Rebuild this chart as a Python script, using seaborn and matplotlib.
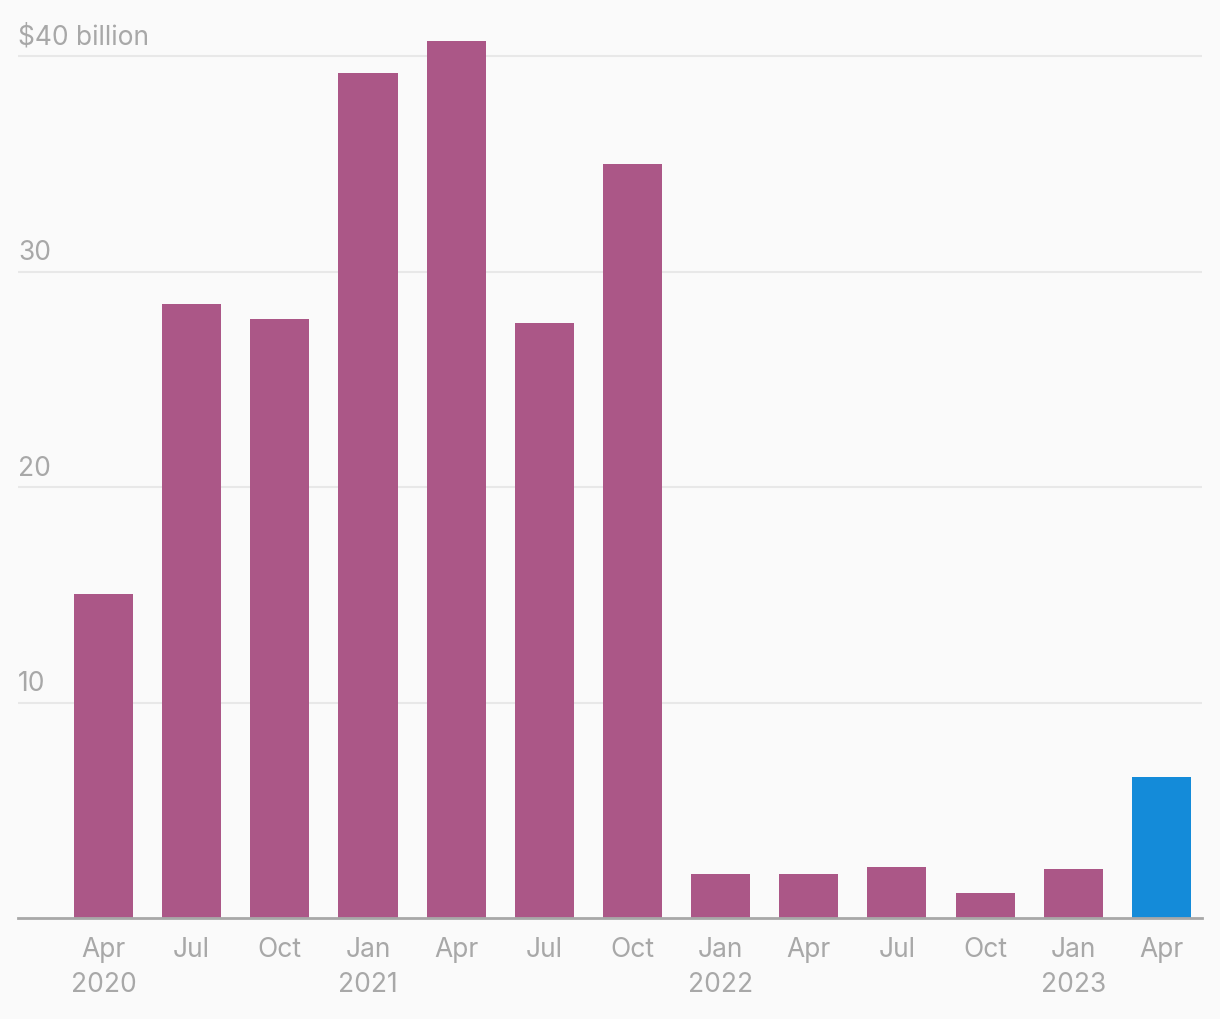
import pandas as pd
import matplotlib.pyplot as plt
import seaborn as sns

# quarterly values, $ billion
quarters = ["2020Q2", "2020Q3", "2020Q4", "2021Q1", "2021Q2", "2021Q3", "2021Q4",
            "2022Q1", "2022Q2", "2022Q3", "2022Q4", "2023Q1", "2023Q2"]
values = [15.05, 28.48, 27.78, 39.2, 40.7, 27.6, 34.98,
          2.04, 2.04, 2.37, 1.16, 2.28, 6.55]
tick_labels = ["Apr\n2020", "Jul", "Oct", "Jan\n2021", "Apr", "Jul", "Oct",
               "Jan\n2022", "Apr", "Jul", "Oct", "Jan\n2023", "Apr"]
latest = [False] * 12 + [True]

y_ticks = [10, 20, 30, 40]
y_labels = ["10", "20", "30", "$40 billion"]

df = pd.DataFrame({"quarter": quarters, "value": values, "latest": latest})

sns.set_style("white")
plt.rcParams['font.family'] = ['Inter', 'DejaVu Sans']

bg = "#fafafa"
grey = "#a8a8a8"

fig = plt.figure(figsize=(12.2, 10.2), dpi=100, facecolor=bg)
ax = fig.add_axes([18 / 1220, (1020 - 919) / 1020, (1202 - 18) / 1220, (919 - 14) / 1020])
ax.set_facecolor(bg)

for t in y_ticks:
    ax.axhline(t, color="#e8e8e8", lw=1.5, zorder=0)

sns.barplot(data=df, x="quarter", y="value", hue="latest", order=quarters,
            palette={False: "#ab5787", True: "#148bd9"}, width=0.67,
            dodge=False, legend=False, saturation=1, linewidth=0, ax=ax, zorder=2)

ax.set_xlim(-0.97, 12.46)
ax.set_ylim(0, 42)

ax.set_xticks(range(len(quarters)))
ax.set_xticklabels(tick_labels, fontsize=19, color=grey, linespacing=1.45)
ax.tick_params(axis="x", length=0, pad=13)
ax.set_yticks([])
ax.set_xlabel("")
ax.set_ylabel("")

for t, lab in zip(y_ticks, y_labels):
    ax.text(0, t + 0.3, lab, transform=ax.get_yaxis_transform(),
            ha="left", va="bottom", fontsize=19, color=grey)

for s in ["top", "right", "left"]:
    ax.spines[s].set_visible(False)
ax.spines["bottom"].set_color(grey)
ax.spines["bottom"].set_linewidth(2)
ax.spines["bottom"].set_zorder(3)

fig.savefig("out.png", dpi=100, facecolor=bg)
